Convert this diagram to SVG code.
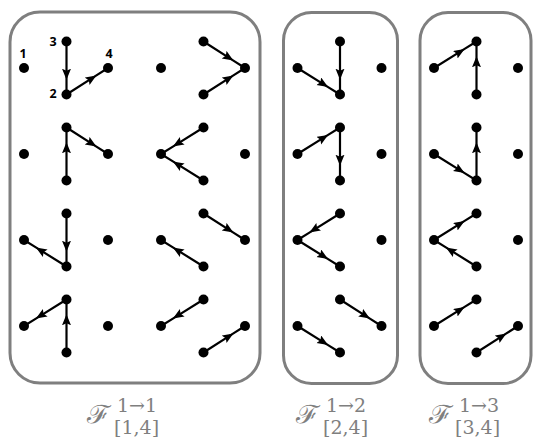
<svg xmlns="http://www.w3.org/2000/svg" width="534" height="439" viewBox="0 0 534 439">
<style>
.panel{fill:#fff;stroke:#7f7f7f;stroke-width:3}
.n{fill:#000}
.e{fill:none;stroke:#000;stroke-width:2.2;marker-mid:url(#ah)}
.lbl{font-family:"Open Sans","Liberation Sans",sans-serif;font-weight:bold;font-size:12.5px;fill:#000}
.F{font-family:"DejaVu Serif","Noto Sans",serif;font-size:25px;fill:#7f7f7f}
.s{font-family:"DejaVu Serif","Liberation Serif",serif;font-size:19px;fill:#7f7f7f}
</style>
<defs>
<marker id="ah" markerUnits="userSpaceOnUse" markerWidth="12" markerHeight="10" refX="11" refY="4.5" orient="auto" viewBox="0 0 12 10">
<path d="M0,0 L11,4.5 L0,9 L2,4.5 z" fill="#000"/>
</marker>
</defs>
<g id="panels">
<rect class="panel" x="10" y="12" width="250" height="371" rx="30"/>
<rect class="panel" x="283.5" y="12.5" width="114" height="371" rx="28"/>
<rect class="panel" x="420" y="12.5" width="111" height="371" rx="28"/>
</g>
<g id="connectors">
<path class="e" d="M66.5,41.5 L66.5,79.7 L66.5,94.5"/>
<path class="e" d="M66.5,94.5 L96.4,75.4 L108,68"/>
<path class="e" d="M203.5,41.5 L233.4,60.6 L245,68"/>
<path class="e" d="M203.5,94.5 L233.4,75.4 L245,68"/>
<path class="e" d="M66.5,180.5 L66.5,142.3 L66.5,127.5"/>
<path class="e" d="M66.5,127.5 L96.4,146.6 L108,154"/>
<path class="e" d="M203.5,127.5 L172.9,146.6 L161,154"/>
<path class="e" d="M203.5,180.5 L172.9,161.4 L161,154"/>
<path class="e" d="M66.5,213.5 L66.5,251.7 L66.5,266.5"/>
<path class="e" d="M66.5,266.5 L35.9,247.4 L24,240"/>
<path class="e" d="M203.5,213.5 L233.4,232.6 L245,240"/>
<path class="e" d="M203.5,266.5 L172.9,247.4 L161,240"/>
<path class="e" d="M66.5,352.5 L66.5,314.3 L66.5,299.5"/>
<path class="e" d="M66.5,299.5 L35.9,318.6 L24,326"/>
<path class="e" d="M203.5,299.5 L172.9,318.6 L161,326"/>
<path class="e" d="M203.5,352.5 L233.4,333.4 L245,326"/>
<path class="e" d="M297.5,68 L328.1,87.1 L340,94.5"/>
<path class="e" d="M340,41.5 L340,79.7 L340,94.5"/>
<path class="e" d="M297.5,154 L328.1,134.9 L340,127.5"/>
<path class="e" d="M340,127.5 L340,165.7 L340,180.5"/>
<path class="e" d="M340,213.5 L309.4,232.6 L297.5,240"/>
<path class="e" d="M297.5,240 L328.1,259.1 L340,266.5"/>
<path class="e" d="M340,299.5 L369.9,318.6 L381.5,326"/>
<path class="e" d="M297.5,326 L328.1,345.1 L340,352.5"/>
<path class="e" d="M434,68 L464.6,48.9 L476.5,41.5"/>
<path class="e" d="M476.5,94.5 L476.5,56.3 L476.5,41.5"/>
<path class="e" d="M434,154 L464.6,173.1 L476.5,180.5"/>
<path class="e" d="M476.5,180.5 L476.5,142.3 L476.5,127.5"/>
<path class="e" d="M434,240 L464.6,220.9 L476.5,213.5"/>
<path class="e" d="M476.5,266.5 L445.9,247.4 L434,240"/>
<path class="e" d="M434,326 L464.6,306.9 L476.5,299.5"/>
<path class="e" d="M476.5,352.5 L506.4,333.4 L518,326"/>
</g>
<g id="p1-r1c1" class="n"><circle cx="24" cy="68" r="5"/><circle cx="66.5" cy="94.5" r="5"/><circle cx="66.5" cy="41.5" r="5"/><circle cx="108" cy="68" r="5"/></g>
<g id="p1-r1c2" class="n"><circle cx="161" cy="68" r="5"/><circle cx="203.5" cy="94.5" r="5"/><circle cx="203.5" cy="41.5" r="5"/><circle cx="245" cy="68" r="5"/></g>
<g id="p1-r2c1" class="n"><circle cx="24" cy="154" r="5"/><circle cx="66.5" cy="180.5" r="5"/><circle cx="66.5" cy="127.5" r="5"/><circle cx="108" cy="154" r="5"/></g>
<g id="p1-r2c2" class="n"><circle cx="161" cy="154" r="5"/><circle cx="203.5" cy="180.5" r="5"/><circle cx="203.5" cy="127.5" r="5"/><circle cx="245" cy="154" r="5"/></g>
<g id="p1-r3c1" class="n"><circle cx="24" cy="240" r="5"/><circle cx="66.5" cy="266.5" r="5"/><circle cx="66.5" cy="213.5" r="5"/><circle cx="108" cy="240" r="5"/></g>
<g id="p1-r3c2" class="n"><circle cx="161" cy="240" r="5"/><circle cx="203.5" cy="266.5" r="5"/><circle cx="203.5" cy="213.5" r="5"/><circle cx="245" cy="240" r="5"/></g>
<g id="p1-r4c1" class="n"><circle cx="24" cy="326" r="5"/><circle cx="66.5" cy="352.5" r="5"/><circle cx="66.5" cy="299.5" r="5"/><circle cx="108" cy="326" r="5"/></g>
<g id="p1-r4c2" class="n"><circle cx="161" cy="326" r="5"/><circle cx="203.5" cy="352.5" r="5"/><circle cx="203.5" cy="299.5" r="5"/><circle cx="245" cy="326" r="5"/></g>
<g id="p2-r1" class="n"><circle cx="297.5" cy="68" r="5"/><circle cx="340" cy="94.5" r="5"/><circle cx="340" cy="41.5" r="5"/><circle cx="381.5" cy="68" r="5"/></g>
<g id="p2-r2" class="n"><circle cx="297.5" cy="154" r="5"/><circle cx="340" cy="180.5" r="5"/><circle cx="340" cy="127.5" r="5"/><circle cx="381.5" cy="154" r="5"/></g>
<g id="p2-r3" class="n"><circle cx="297.5" cy="240" r="5"/><circle cx="340" cy="266.5" r="5"/><circle cx="340" cy="213.5" r="5"/><circle cx="381.5" cy="240" r="5"/></g>
<g id="p2-r4" class="n"><circle cx="297.5" cy="326" r="5"/><circle cx="340" cy="352.5" r="5"/><circle cx="340" cy="299.5" r="5"/><circle cx="381.5" cy="326" r="5"/></g>
<g id="p3-r1" class="n"><circle cx="434" cy="68" r="5"/><circle cx="476.5" cy="94.5" r="5"/><circle cx="476.5" cy="41.5" r="5"/><circle cx="518" cy="68" r="5"/></g>
<g id="p3-r2" class="n"><circle cx="434" cy="154" r="5"/><circle cx="476.5" cy="180.5" r="5"/><circle cx="476.5" cy="127.5" r="5"/><circle cx="518" cy="154" r="5"/></g>
<g id="p3-r3" class="n"><circle cx="434" cy="240" r="5"/><circle cx="476.5" cy="266.5" r="5"/><circle cx="476.5" cy="213.5" r="5"/><circle cx="518" cy="240" r="5"/></g>
<g id="p3-r4" class="n"><circle cx="434" cy="326" r="5"/><circle cx="476.5" cy="352.5" r="5"/><circle cx="476.5" cy="299.5" r="5"/><circle cx="518" cy="326" r="5"/></g>
<g id="node-labels" class="lbl">
<text x="19.5" y="58">1</text>
<text x="49.5" y="46">3</text>
<text x="105.5" y="58">4</text>
<text x="49.5" y="98">2</text>
</g>
<g id="captions">
<text class="F" transform="translate(87,423) scale(1.15,1)">ℱ</text><text class="s" x="117" y="412">1→1</text><text class="s" x="114" y="434">[1,4]</text>
<text class="F" transform="translate(296,423) scale(1.15,1)">ℱ</text><text class="s" x="326" y="412">1→2</text><text class="s" x="323" y="434">[2,4]</text>
<text class="F" transform="translate(429,423) scale(1.15,1)">ℱ</text><text class="s" x="459" y="412">1→3</text><text class="s" x="455" y="434">[3,4]</text>
</g>
</svg>
